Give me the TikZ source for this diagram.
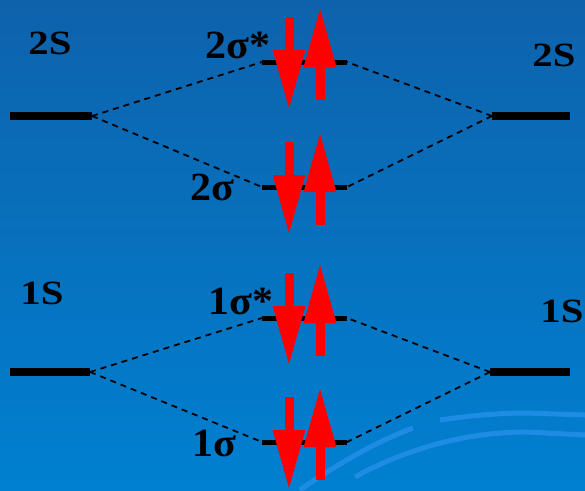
\documentclass[tikz,border=0pt]{standalone}
\usepackage{fontspec}
\setmainfont{Liberation Serif}
\newfontfamily\aofont[FakeStretch=1.2]{Liberation Serif}
\newfontfamily\mofont[FakeStretch=1.05]{Liberation Serif}
\definecolor{bgtop}{RGB}{14,98,172}
\definecolor{bgbot}{RGB}{0,128,208}
\definecolor{arcblue}{RGB}{30,140,228}
\definecolor{spinred}{RGB}{255,0,0}
\usetikzlibrary{arrows.meta,positioning}

\begin{document}
\begin{tikzpicture}[x=1pt,y=-1pt,
  aolevel/.style={line width=8pt},
  molevel/.style={line width=5pt},
  corr/.style={line width=1.8pt,dash pattern=on 6pt off 5pt},
  spin/.style={-{Triangle[length=60pt,width=30pt]},line width=9pt,spinred},
  aolbl/.style={font=\aofont\fontsize{34}{36}\selectfont\bfseries},
  molbl/.style={font=\mofont\fontsize{40}{42}\selectfont\bfseries},
  deco/.style={arcblue,line width=5pt}]
  % background
  \useasboundingbox (0,0) rectangle (585,490);
  \shade[top color=bgtop,bottom color=bgbot] (0,0) rectangle (585,490);
  \draw[deco] (300,490) .. controls (340,462) and (380,440) .. (413,428);
  \draw[deco] (355,477) .. controls (400,452) and (460,432) .. (527,432) -- (585,435);
  \draw[deco] (440,420) .. controls (480,414) and (510,413) .. (527,413) -- (585,415);

  % level end points
  \coordinate (l2a) at (10,116);  \coordinate (l2b) at (92,116);
  \coordinate (r2a) at (492,116); \coordinate (r2b) at (570,116);
  \coordinate (a2a) at (262,62);  \coordinate (a2b) at (347,62);
  \coordinate (b2a) at (262,187); \coordinate (b2b) at (347,187);
  \coordinate (l1a) at (10,372);  \coordinate (l1b) at (90,372);
  \coordinate (r1a) at (490,372); \coordinate (r1b) at (570,372);
  \coordinate (a1a) at (262,318); \coordinate (a1b) at (347,318);
  \coordinate (b1a) at (262,442); \coordinate (b1b) at (347,442);

  % correlation lines
  \draw[corr] (l2b) -- (a2a) (l2b) -- (b2a) (r2a) -- (a2b) (r2a) -- (b2b);
  \draw[corr] (l1b) -- (a1a) (l1b) -- (b1a) (r1a) -- (a1b) (r1a) -- (b1b);

  % levels
  \draw[aolevel] (l2a) -- (l2b) (r2a) -- (r2b) (l1a) -- (l1b) (r1a) -- (r1b);
  \draw[molevel] (a2a) -- (a2b) (b2a) -- (b2b) (a1a) -- (a1b) (b1a) -- (b1b);

  % labels
  \node[aolbl] (lab2l) at (50,43) {2S};
  \node[aolbl] (lab2r) at (554,55) {2S};
  \node[aolbl] (lab1l) at (42,293) {1S};
  \node[aolbl] (lab1r) at (562,311) {1S};
  \node[molbl] (laba2) at (238,45) {2σ*};
  \node[molbl] (labb2) at (212,187) {2σ};
  \node[molbl] (laba1) at (241,301) {1σ*};
  \node[molbl] (labb1) at (214,443) {1σ};

  % electron pairs
  \foreach \lv in {62,187,318,442} {
    \draw[spin] (289,{\lv-45}) -- (289,{\lv+48});
    \draw[spin] (320,{\lv+38}) -- (320,{\lv-55});
  }
\end{tikzpicture}
\end{document}
